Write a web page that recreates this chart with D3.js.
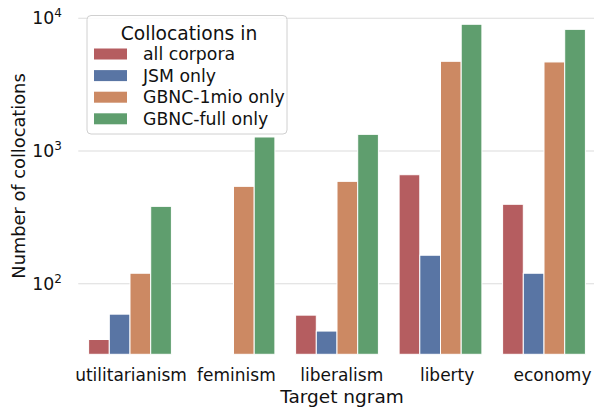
<!DOCTYPE html>
<html>
<head>
<meta charset="utf-8">
<script src="https://d3js.org/d3.v7.min.js"></script>
<style>
    body { margin: 0; background: #fff; }
    text { font-family: "DejaVu Sans", sans-serif; fill: #111; }
</style>
</head>
<body>
<svg width="594" height="408"></svg>
<script>
    var categories = ["utilitarianism", "feminism", "liberalism", "liberty", "economy"];
    var seriesNames = ["all corpora", "JSM only", "GBNC-1mio only", "GBNC-full only"];
    var allCorpora = [38, 0, 58, 663, 397];
    var jsmOnly = [59, 0, 44, 164, 120];
    var gbnc1mioOnly = [120, 542, 591, 4744, 4690];
    var gbncFullOnly = [383, 1276, 1336, 9020, 8260];
    var yTicks = [100, 1000, 10000];
    var colors = ["#b55d60", "#5975a4", "#cc8963", "#5f9e6e"];

    var series = [allCorpora, jsmOnly, gbnc1mioOnly, gbncFullOnly];

    var svg = d3.select("svg"),
        plotLeft = 78.25, plotRight = 595.75, plotTop = 5, plotBottom = 354.3;

    var x = d3.scaleBand()
        .domain(categories)
        .range([plotLeft, plotRight])
        .paddingInner(0).paddingOuter(0);

    var xInner = d3.scaleBand()
        .domain(seriesNames)
        .range([0, x.bandwidth() * 0.8]);

    // tick labels sit slightly spread relative to the bar groups in the original
    var xLabel = d3.scalePoint()
        .domain(categories)
        .range([131, 552.5]);

    var y = d3.scaleLog()
        .domain([29.4, 12600])
        .range([plotBottom, plotTop]);

    // grid
    svg.append("g")
        .selectAll("line")
        .data(yTicks)
        .join("line")
        .attr("x1", plotLeft).attr("x2", 594)
        .attr("y1", d => y(d)).attr("y2", d => y(d))
        .attr("stroke", "#dcdcdc")
        .attr("stroke-width", 1.1);

    // y tick labels with superscript
    var yt = svg.append("g")
        .selectAll("text")
        .data(yTicks)
        .join("text")
        .attr("x", 62)
        .attr("y", d => y(d) + 6)
        .attr("text-anchor", "end")
        .style("font-size", "17.3px");
    yt.append("tspan").text("10");
    yt.append("tspan")
        .attr("dy", -7)
        .style("font-size", "12px")
        .text(d => Math.round(Math.log10(d)));

    // bars
    var groups = svg.append("g")
        .selectAll("g")
        .data(series)
        .join("g")
        .attr("fill", (d, i) => colors[i]);

    groups.each(function (vals, si) {
        d3.select(this).selectAll("rect")
            .data(vals.map((v, ci) => ({ v: v, c: categories[ci] })).filter(d => d.v > 0))
            .join("rect")
            .attr("x", d => x(d.c) + x.bandwidth() * 0.1 + xInner(seriesNames[si]))
            .attr("width", xInner.bandwidth())
            .attr("y", d => y(d.v))
            .attr("height", d => plotBottom - y(d.v))
            .attr("stroke", "#fff")
            .attr("stroke-width", 1);
    });

    // x tick labels
    svg.append("g")
        .selectAll("text")
        .data(categories)
        .join("text")
        .attr("x", d => xLabel(d))
        .attr("y", 381)
        .attr("text-anchor", "middle")
        .style("font-size", "17px")
        .text(d => d);

    // axis labels
    svg.append("text")
        .attr("x", 342)
        .attr("y", 402.5)
        .attr("text-anchor", "middle")
        .style("font-size", "18.5px")
        .text("Target ngram");

    svg.append("text")
        .attr("transform", "translate(25," + 176 + ") rotate(-90)")
        .attr("text-anchor", "middle")
        .style("font-size", "17.8px")
        .text("Number of collocations");

    // legend
    var lg = svg.append("g");
    lg.append("rect")
        .attr("x", 87).attr("y", 15.5)
        .attr("width", 200).attr("height", 118.5)
        .attr("rx", 4)
        .attr("fill", "#fff").attr("fill-opacity", 0.85)
        .attr("stroke", "#d0d0d0");
    lg.append("text")
        .attr("x", 189).attr("y", 40)
        .attr("text-anchor", "middle")
        .style("font-size", "18.7px")
        .text("Collocations in");
    var items = lg.selectAll("g.item")
        .data(seriesNames)
        .join("g")
        .attr("class", "item")
        .attr("transform", (d, i) => "translate(0," + (54 + i * 21.6) + ")");
    items.append("rect")
        .attr("x", 94).attr("y", -5.5)
        .attr("width", 33).attr("height", 11)
        .attr("fill", (d, i) => colors[i]);
    items.append("text")
        .attr("x", 143).attr("y", 6)
        .style("font-size", "17.3px")
        .text(d => d);
</script>
</body>
</html>
